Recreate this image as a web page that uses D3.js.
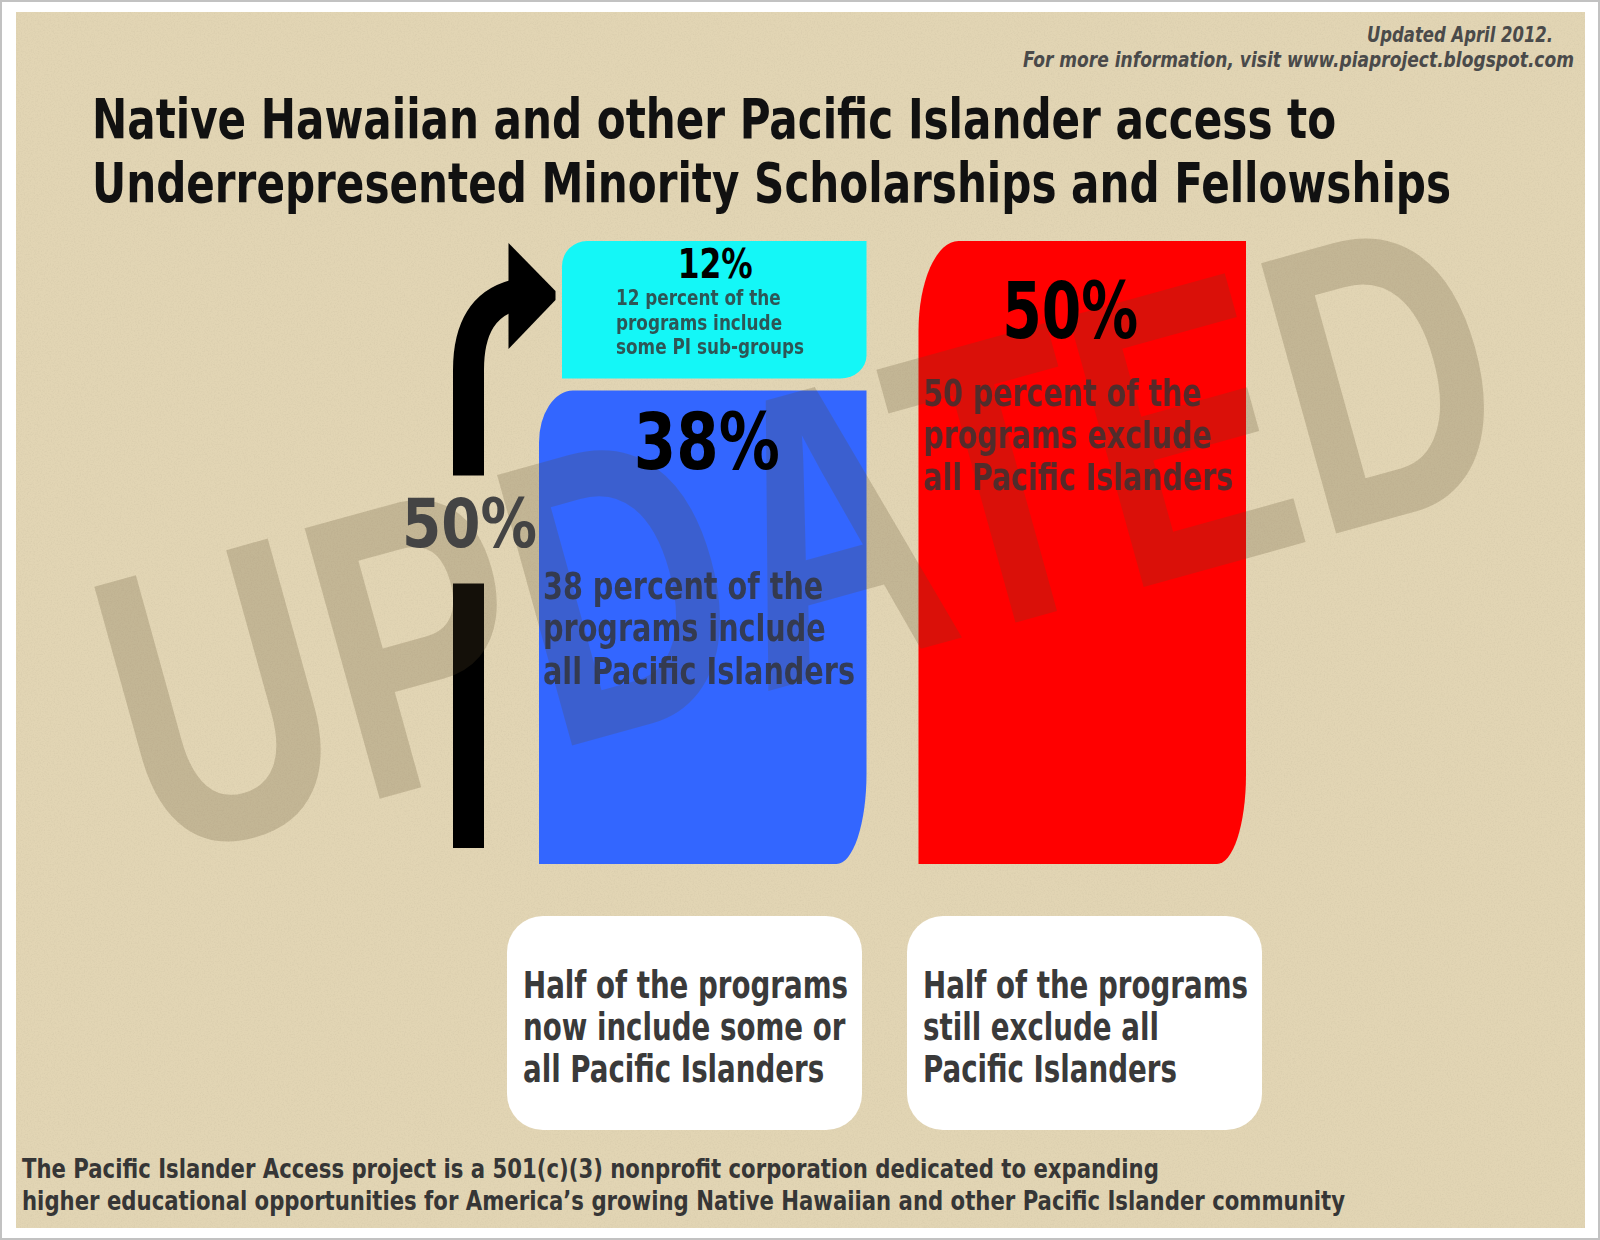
<!DOCTYPE html>
<html>
<head>
<meta charset="utf-8">
<script src="https://cdn.jsdelivr.net/npm/d3@7"></script>
<style>
  body { margin: 0; background: #fff; }
  text { font-family: "DejaVu Sans Condensed", "DejaVu Sans", sans-serif; font-weight: bold; }
  text.watermark { font-family: "Liberation Sans", Arial, sans-serif; font-weight: bold; }
  text.update { font-style: italic; }
</style>
</head>
<body>
<script>
const columns = ['include', 'exclude'];
const segments = ['allIncluded', 'someIncluded', 'allExcluded'];
const segmentColumn = ['include', 'include', 'exclude'];
const segmentValues = [38, 12, 50];
const percentLabels = ['38%', '12%', '50%'];
const segmentNotes = [
    ['38 percent of the', 'programs include', 'all Pacific Islanders'],
    ['12 percent of the', 'programs include', 'some PI sub-groups'],
    ['50 percent of the', 'programs exclude', 'all Pacific Islanders']
];
const includedTotal = '50%';
const columnNotes = [
    ['Half of the programs', 'now include some or', 'all Pacific Islanders'],
    ['Half of the programs', 'still exclude all', 'Pacific Islanders']
];
const titleLines = ['Native Hawaiian and other Pacific Islander access to',
                    'Underrepresented Minority Scholarships and Fellowships'];
const updateLines = ['Updated April 2012.', 'For more information, visit www.piaproject.blogspot.com'];
const footerLines = ['The Pacific Islander Access project is a 501(c)(3) nonprofit corporation dedicated to expanding',
                     'higher educational opportunities for America\u2019s growing Native Hawaiian and other Pacific Islander community'];
const watermarkText = 'UPDATED';

//Styles
const colors = d3.scaleOrdinal().domain(segments).range(['#3366ff', '#14f7f7', '#ff0000']);
// corner radii [rx, ry] for top-left and bottom-right
const corners = {
    allIncluded:  {tl: [34, 52], br: [30, 90]},
    someIncluded: {tl: [25, 25], br: [26, 23]},
    allExcluded:  {tl: [40, 90], br: [29, 89]}
};
const labelLayout = {
    allIncluded:  {size: 78, dy: 78, dx: 4,   noteDx: 4,  noteDy: 208, noteLead: 42.5, noteSize: 38, noteW: 312, pctW: 146},
    someIncluded: {size: 40, dy: 37, dx: 1,   noteDx: 54, noteDy: 64,  noteLead: 24.5, noteSize: 22, noteW: 188, pctW: 75},
    allExcluded:  {size: 78, dy: 97, dx: -12, noteDx: 5,  noteDy: 165, noteLead: 42,   noteSize: 38, noteW: 310, pctW: 136}
};

const width = 1600, height = 1240;
const gap = 12, inset = 23;

const svg = d3.select('body').append('svg')
    .attr('width', width)
    .attr('height', height);

const defs = svg.append('defs');
const grain = defs.append('filter').attr('id', 'grain').attr('x', 0).attr('y', 0).attr('width', 1).attr('height', 1);
grain.append('feTurbulence').attr('type', 'fractalNoise').attr('baseFrequency', 0.7).attr('numOctaves', 3).attr('seed', 4);
grain.append('feColorMatrix').attr('type', 'matrix')
    .attr('values', '0 0 0 0 0.55  0 0 0 0 0.48  0 0 0 0 0.33  0.9 0 0 0 -0.38');

//Frame and background
svg.append('rect').attr('x', 1).attr('y', 1).attr('width', width - 2).attr('height', height - 2)
    .attr('fill', '#fff').attr('stroke', '#c2c2c2').attr('stroke-width', 2);
svg.append('rect').attr('x', 16).attr('y', 12).attr('width', 1569).attr('height', 1216)
    .attr('fill', '#e2d5b4');
svg.append('rect').attr('x', 16).attr('y', 12).attr('width', 1569).attr('height', 1216)
    .attr('filter', 'url(#grain)').attr('opacity', 0.6);

//Scales
const x = d3.scaleBand().domain(columns).range([539, 1246]).paddingInner(0.137);
const y = d3.scaleLinear().domain([0, 50]).range([864, 241]);
const boxX = d3.scaleBand().domain(columns).range([507, 1262]).paddingInner(0.1125);

//Stack the segments per column
const stackBase = {};
const bars = segments.map((name, i) => {
    const col = segmentColumn[i];
    const base = stackBase[col] || 0;
    const top = base + segmentValues[i];
    stackBase[col] = top;
    return {
        name: name,
        x0: x(col) + (base > 0 ? inset : 0),
        x1: x(col) + x.bandwidth(),
        y0: y(top),
        y1: y(base) - (base > 0 ? gap : 0),
        label: percentLabels[i],
        note: segmentNotes[i]
    };
});

function barPath(d) {
    const c = corners[d.name];
    return 'M' + d.x0 + ',' + (d.y0 + c.tl[1]) +
        'A' + c.tl[0] + ',' + c.tl[1] + ' 0 0 1 ' + (d.x0 + c.tl[0]) + ',' + d.y0 +
        'L' + d.x1 + ',' + d.y0 +
        'L' + d.x1 + ',' + (d.y1 - c.br[1]) +
        'A' + c.br[0] + ',' + c.br[1] + ' 0 0 1 ' + (d.x1 - c.br[0]) + ',' + d.y1 +
        'L' + d.x0 + ',' + d.y1 + 'Z';
}

// squeeze the lines of a block so the widest one gets the target width
function fit(g, target) {
    const texts = g.selectAll('text');
    const lens = texts.nodes().map(n => n.getComputedTextLength());
    const s = target / d3.max(lens);
    texts.attr('textLength', (d, i) => lens[i] * s)
        .attr('lengthAdjust', 'spacingAndGlyphs');
}

function textBlock(parent, lines, px, py, lead, size, anchor, fill, target, cls) {
    const g = parent.append('g');
    g.selectAll('text')
        .data(lines)
        .enter()
        .append('text')
        .attr('class', cls || null)
        .attr('x', px)
        .attr('y', (d, i) => py + i * lead)
        .attr('text-anchor', anchor)
        .attr('font-size', size)
        .attr('fill', fill)
        .text(d => d);
    fit(g, target);
    return g;
}

//White summary boxes
svg.selectAll('.summary')
    .data(columns)
    .enter()
    .append('rect')
    .attr('class', 'summary')
    .attr('x', d => boxX(d))
    .attr('y', 916)
    .attr('width', boxX.bandwidth())
    .attr('height', 214)
    .attr('rx', 36)
    .attr('fill', '#fff');

//Bars
svg.selectAll('.bar')
    .data(bars)
    .enter()
    .append('path')
    .attr('class', 'bar')
    .attr('d', barPath)
    .attr('fill', d => colors(d.name));

//Arrow for the included half
const shaftX = x('include') - 70.5;
const headY = y(50) + 54;
const midY = (y(0) + y(50)) / 2;
const arrow = svg.append('g').attr('fill', '#000');
arrow.append('path')
    .attr('d', 'M' + shaftX + ',' + (midY - 77) + 'L' + shaftX + ',' + (headY + 75) +
        'C' + shaftX + ',' + (headY + 32) + ' ' + (shaftX + 16) + ',' + (headY + 8) + ' ' + (shaftX + 46) + ',' + headY)
    .attr('fill', 'none')
    .attr('stroke', '#000')
    .attr('stroke-width', 31);
arrow.append('path')
    .attr('d', 'M' + (shaftX + 40) + ',' + (headY - 52) + 'L' + (shaftX + 87) + ',' + (headY - 4) +
        'L' + (shaftX + 87) + ',' + (headY + 5) + 'L' + (shaftX + 40) + ',' + (headY + 54) + 'Z');
arrow.append('rect')
    .attr('x', shaftX - 15.5)
    .attr('y', midY + 31)
    .attr('width', 31)
    .attr('height', y(0) - 16 - (midY + 31));

//Watermark
svg.append('g')
    .attr('transform', 'translate(152,862) rotate(-15.5)')
    .append('text')
    .attr('class', 'watermark')
    .attr('x', 0)
    .attr('y', 0)
    .attr('font-size', 408)
    .attr('textLength', 1425)
    .attr('lengthAdjust', 'spacingAndGlyphs')
    .attr('fill', '#5a4a2a')
    .attr('opacity', 0.22)
    .text(watermarkText);

//Bar labels
bars.forEach(d => {
    const L = labelLayout[d.name];
    textBlock(svg, [d.label], (d.x0 + d.x1) / 2 + L.dx, d.y0 + L.dy, 0, L.size, 'middle', '#000', L.pctW);
    textBlock(svg, d.note, d.x0 + L.noteDx, d.y0 + L.noteDy, L.noteLead, L.noteSize, 'start', '#333', L.noteW)
        .attr('opacity', 0.82);
});
textBlock(svg, [includedTotal], x('include') - 2, midY - 6, 0, 67, 'end', '#444', 135);

//Summary texts
columnNotes.forEach((lines, i) => {
    textBlock(svg, lines, boxX(columns[i]) + 16, 998, 42, 37, 'start', '#3a3a3a', 325);
});

//Title, update note and footer
textBlock(svg, titleLines, 92, 138, 64, 56, 'start', '#111', 1359);
textBlock(svg, [updateLines[0]], 1553, 42, 0, 21, 'end', '#4a4a4a', 186, 'update');
textBlock(svg, [updateLines[1]], 1574, 67, 0, 21, 'end', '#4a4a4a', 551, 'update');
textBlock(svg, footerLines, 22, 1178, 32, 26, 'start', '#363636', 1323);
</script>
</body>
</html>
